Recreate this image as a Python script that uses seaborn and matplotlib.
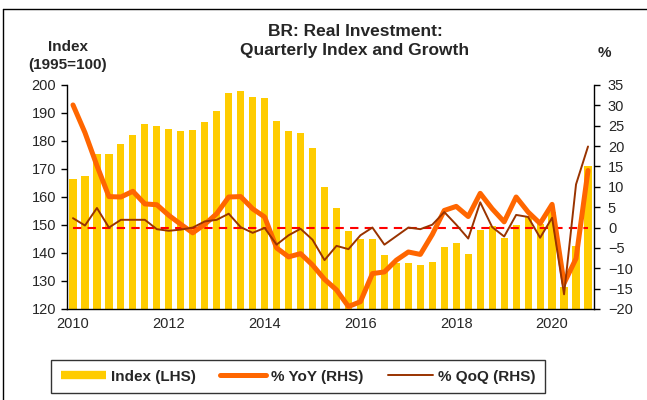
import numpy as np
import pandas as pd
import matplotlib
matplotlib.use('Agg')
import matplotlib.pyplot as plt
from matplotlib.lines import Line2D
import seaborn as sns

# quarterly data 2010Q1 - 2020Q4
quarters = [f'{y}Q{q}' for y in range(2010, 2021) for q in range(1, 5)]
index_lhs = [166.5, 167.4, 175.5, 175.5, 178.9, 182.2, 185.9, 185.4,
             184.4, 183.6, 183.8, 186.8, 190.8, 197.3, 197.9, 195.7,
             195.4, 187.0, 183.4, 182.9, 177.5, 163.4, 156.0, 147.7,
             145.0, 145.0, 139.2, 136.5, 136.5, 135.8, 136.8, 142.2,
             143.4, 139.7, 148.3, 149.5, 145.5, 150.1, 153.1, 150.3,
             154.6, 128.0, 142.4, 171.0]
yoy = [30.1, 23.3, 15.2, 7.6, 7.5, 8.9, 5.8, 5.6,
       3.0, 0.8, -1.3, 0.8, 3.4, 7.5, 7.6, 4.6,
       2.6, -5.0, -7.2, -6.4, -9.2, -12.7, -15.3, -19.4,
       -18.2, -11.3, -10.9, -8.0, -6.0, -6.6, -1.7, 4.2,
       5.2, 2.7, 8.4, 4.6, 1.4, 7.5, 3.8, 1.0,
       5.7, -13.7, -7.6, 14.0]
qoq = [2.3, 0.5, 4.8, 0.0, 1.9, 1.9, 1.9, -0.4,
       -0.8, -0.5, 0.0, 1.5, 1.9, 3.4, 0.1, -1.3,
       -0.1, -4.2, -1.9, -0.3, -3.0, -8.0, -4.5, -5.3,
       -1.9, 0.0, -4.2, -2.1, 0.0, -0.4, 0.7, 3.8,
       0.7, -2.7, 6.2, 0.1, -2.2, 3.1, 2.6, -2.5,
       2.4, -16.4, 10.6, 19.9]
year_labels = ['2010', '2012', '2014', '2016', '2018', '2020']

df = pd.DataFrame({'q': quarters, 'pos': np.arange(len(quarters)),
                   'index': index_lhs, 'yoy': yoy, 'qoq': qoq})

sns.set_style('white')
plt.rcParams['font.family'] = ['Liberation Sans', 'DejaVu Sans']

BAR = '#FFCC00'
YOY = '#FF6600'
QOQ = '#993300'

fig = plt.figure(figsize=(6.47, 4.0), dpi=100)
W, H = 647, 400
ax = fig.add_axes([67 / W, 1 - 309 / H, (594 - 67) / W, (309 - 85) / H])

sns.barplot(data=df, x='pos', y='index', ax=ax, color=BAR, width=0.6,
            saturation=1, edgecolor='none')
ax.set_ylim(120, 200)
ax.set_xlim(-0.5, len(quarters) - 0.5)
ax.set_yticks(range(120, 201, 10))
ax.set_xlabel('')
ax.set_ylabel('')

ax2 = ax.twinx()
ax2.axhline(0, xmin=0.5 / 44, xmax=43.5 / 44, color='#FF0000', lw=1.5, ls=(0, (4, 3)))
sns.lineplot(data=df, x='pos', y='yoy', ax=ax2, color=YOY, lw=3.6, legend=False)
sns.lineplot(data=df, x='pos', y='qoq', ax=ax2, color=QOQ, lw=1.4, legend=False)
ax2.set_ylim(-20, 35)
ax2.set_yticks(range(-20, 36, 5))
ax2.set_xlim(-0.5, len(quarters) - 0.5)
ax2.set_ylabel('')
ax2.set_xlabel('')

# x ticks: labels every two years, tick marks at year boundaries
ax.set_xticks(np.arange(0, 44, 8))
ax.set_xticklabels(year_labels)
ax.set_xticks(np.arange(-0.5, 44, 4), minor=True)
ax.tick_params(axis='x', which='major', length=0, labelsize=10.5, pad=6)
ax.tick_params(axis='x', which='minor', length=4, width=1, color='black', direction='out')
ax.tick_params(axis='y', length=4, width=1, color='black', direction='out', labelsize=10.5, pad=4)
ax2.tick_params(axis='y', length=4, width=1, color='black', direction='out', labelsize=10.5, pad=6)

for a in (ax, ax2):
    for s in a.spines.values():
        s.set_visible(False)
ax.spines['left'].set_visible(True)
ax.spines['bottom'].set_visible(True)
ax2.spines['right'].set_visible(True)
for s in (ax.spines['left'], ax.spines['bottom'], ax2.spines['right']):
    s.set_color('black')
    s.set_linewidth(1)

fig.text(355 / W, 1 - 31 / H, 'BR: Real Investment:', ha='center', va='center',
         fontsize=12.5, fontweight='bold')
fig.text(355 / W, 1 - 50 / H, 'Quarterly Index and Growth', ha='center', va='center',
         fontsize=12.5, fontweight='bold')
fig.text(68 / W, 1 - 47 / H, 'Index', ha='center', va='center', fontsize=11, fontweight='bold')
fig.text(68 / W, 1 - 65 / H, '(1995=100)', ha='center', va='center', fontsize=11, fontweight='bold')
fig.text(604 / W, 1 - 53 / H, '%', ha='center', va='center', fontsize=11, fontweight='bold')

handles = [Line2D([], [], color=BAR, lw=6, solid_capstyle='butt'),
           Line2D([], [], color=YOY, lw=3.6),
           Line2D([], [], color=QOQ, lw=1.4)]
leg = fig.legend(handles, ['Index (LHS)', '% YoY (RHS)', '% QoQ (RHS)'],
                 loc='center', bbox_to_anchor=(298 / W, 1 - 376.5 / H), ncol=3,
                 frameon=True, fancybox=False, edgecolor='black', handlelength=3.0,
                 columnspacing=1.6, handletextpad=0.3, borderpad=0.6,
                 prop={'weight': 'bold', 'size': 11})
leg.get_frame().set_linewidth(1)

# outer frame (left and top edges of the original slide box)
fig.add_artist(Line2D([3 / W, 3 / W], [0, 1 - 9 / H], color='black', lw=1,
                      transform=fig.transFigure))
fig.add_artist(Line2D([3 / W, 1], [1 - 9 / H, 1 - 9 / H], color='black', lw=1,
                      transform=fig.transFigure))

fig.savefig('out.png', dpi=100)
